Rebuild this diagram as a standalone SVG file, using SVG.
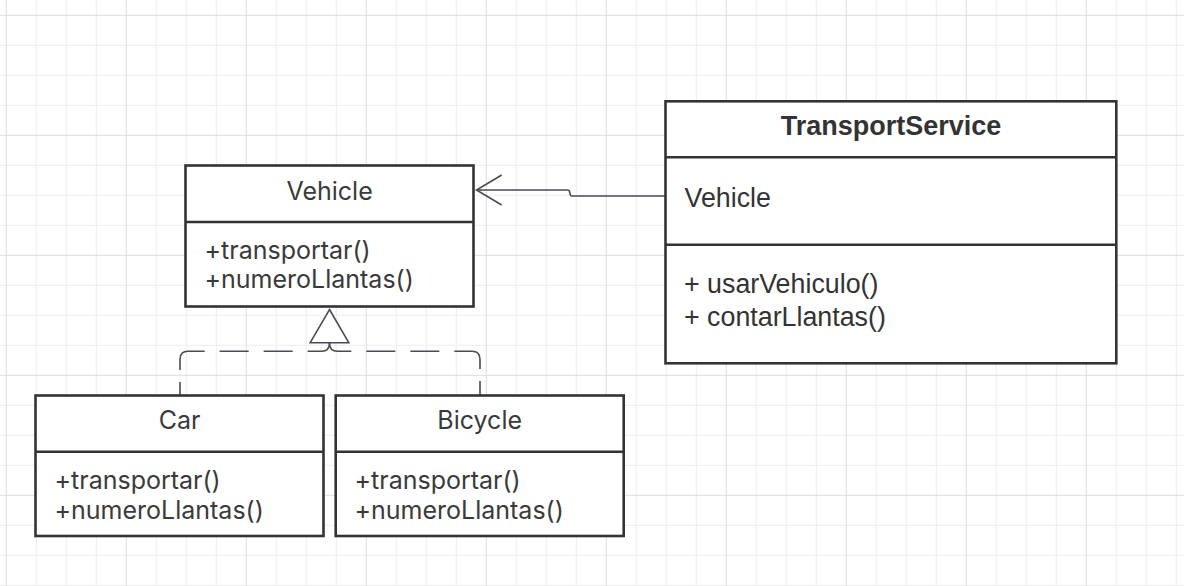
<svg xmlns="http://www.w3.org/2000/svg" width="1184" height="586" viewBox="0 0 1184 586">
<defs>
<pattern id="grid" x="5.8" y="14.8" width="120" height="120" patternUnits="userSpaceOnUse">
<rect x="0" y="0" width="120" height="120" fill="#ffffff"/>
<g fill="#ededed">
<rect x="30" y="0" width="1" height="120"/>
<rect x="60" y="0" width="1" height="120"/>
<rect x="90" y="0" width="1" height="120"/>
<rect x="0" y="30" width="120" height="1"/>
<rect x="0" y="60" width="120" height="1"/>
<rect x="0" y="90" width="120" height="1"/>
</g>
<g fill="#dcdcdc">
<rect x="0" y="0" width="1" height="120"/>
<rect x="0" y="0" width="120" height="1"/>
</g>
</pattern>
</defs>
<style>
.box{fill:#ffffff;stroke:#333333;stroke-width:2.6}
.div{stroke:#333333;stroke-width:2.6}
.t1{font-family:Inter,"Liberation Sans",sans-serif;font-size:25px;fill:#3a3a3a}
.t2{font-family:"Liberation Sans",Arial,sans-serif;font-size:26.8px;fill:#333333}
.bold{font-weight:bold;font-size:27px}
.mid{text-anchor:middle}
.conn{fill:none;stroke:#474b52;stroke-width:1.6}
.dash{stroke-dasharray:27 15 29 15 29 15 40 12 40}
</style>
<rect width="1184" height="586" fill="url(#grid)"/>

<g id="connectors">
<path class="conn dash" d="M329.5 343 Q329.5 351.3 321.5 351.3 H188 Q180 351.3 180 359.3 V395"/>
<path class="conn dash" d="M329.5 343 Q329.5 351.3 337.5 351.3 H472 Q480 351.3 480 359.3 V395"/>
<path d="M329.5 309.5 L348.8 342.7 L310.2 342.7 Z" fill="#ffffff" stroke="#474b52" stroke-width="1.6"/>
<path class="conn" d="M665 196 H572 Q570.6 196 570.2 194.5 L569.6 191.5 Q569.2 190 567.6 190 H477"/>
<path class="conn" d="M501.7 175 L476.5 190 L501.7 205"/>
</g>

<g id="vehicle">
<rect class="box" x="185.5" y="165.5" width="288" height="141"/>
<line class="div" x1="185.5" y1="222" x2="473.5" y2="222"/>
<text class="t1 mid" x="329.6" y="200">Vehicle</text>
<text class="t1" x="204.5" y="259.3">+transportar()</text>
<text class="t1" x="204.5" y="288.3">+numeroLlantas()</text>
</g>

<g id="car">
<rect class="box" x="35.5" y="395.5" width="288" height="140.5"/>
<line class="div" x1="35.5" y1="451.7" x2="323.5" y2="451.7"/>
<text class="t1 mid" x="179.5" y="429.3">Car</text>
<text class="t1" x="54.5" y="489.3">+transportar()</text>
<text class="t1" x="54.5" y="518.7">+numeroLlantas()</text>
</g>

<g id="bicycle">
<rect class="box" x="335.7" y="395.5" width="288" height="140.5"/>
<line class="div" x1="335.7" y1="451.7" x2="623.7" y2="451.7"/>
<text class="t1 mid" x="479.7" y="429.3">Bicycle</text>
<text class="t1" x="354.5" y="489.3">+transportar()</text>
<text class="t1" x="354.5" y="518.7">+numeroLlantas()</text>
</g>

<g id="transportservice">
<rect class="box" x="665.5" y="101.3" width="450.8" height="262"/>
<line class="div" x1="665.5" y1="157.3" x2="1116.3" y2="157.3"/>
<line class="div" x1="665.5" y1="244.7" x2="1116.3" y2="244.7"/>
<text class="t2 bold mid" x="891" y="135">TransportService</text>
<text class="t2" x="684.5" y="206.7">Vehicle</text>
<text class="t2" x="684" y="293.3">+ usarVehiculo()</text>
<text class="t2" x="684" y="326">+ contarLlantas()</text>
</g>
</svg>
